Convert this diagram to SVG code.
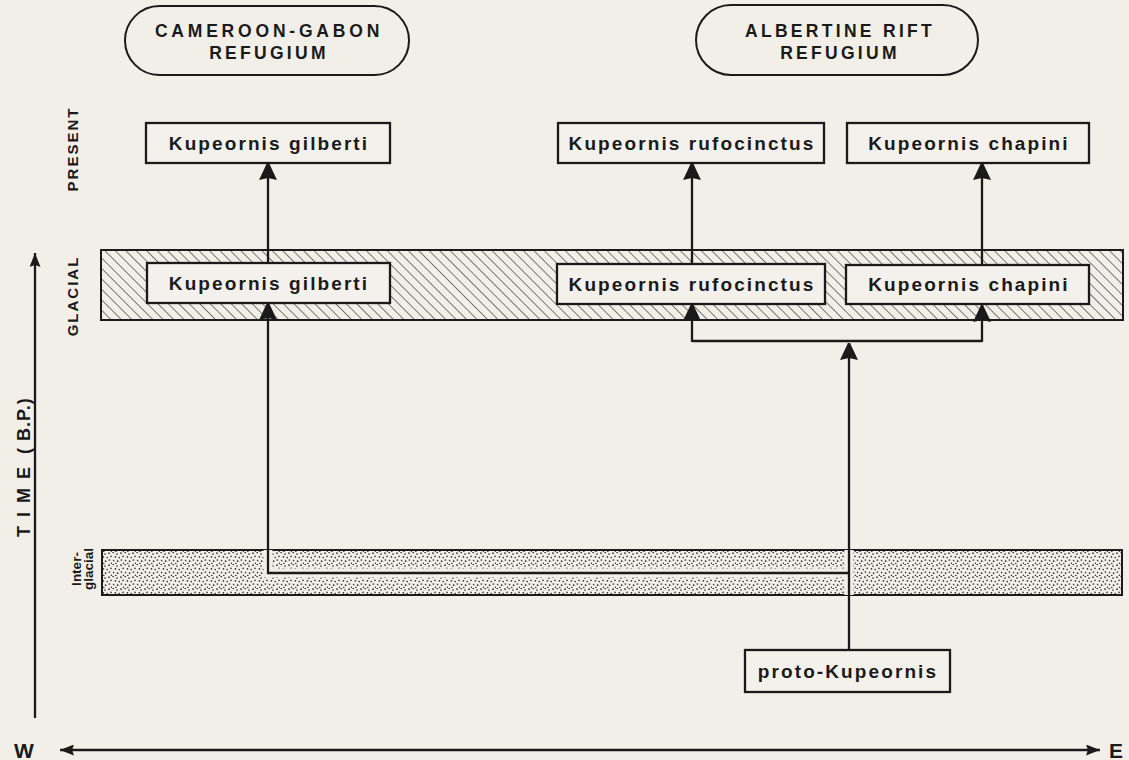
<svg xmlns="http://www.w3.org/2000/svg" width="1129" height="760" viewBox="0 0 1129 760">
<style>
.bg{fill:#f2efe9}
.box{fill:#f4f1ec;stroke:#1a1a1a;stroke-width:2.3}
.pill{fill:#f2efe9;stroke:#1a1a1a;stroke-width:2}
.lbl{font-family:"Liberation Sans",Arial,sans-serif;font-weight:bold;font-size:19px;fill:#1a1a1a;text-anchor:middle;letter-spacing:2.1px}
.ref{font-family:"Liberation Sans",Arial,sans-serif;font-weight:bold;font-size:17.5px;fill:#1a1a1a;text-anchor:middle;letter-spacing:3.3px}
.ax{font-family:"Liberation Sans",Arial,sans-serif;font-weight:bold;font-size:15px;fill:#1a1a1a;text-anchor:middle;letter-spacing:2px}
.ig{font-family:"Liberation Sans",Arial,sans-serif;font-weight:bold;font-size:13.5px;fill:#1a1a1a;text-anchor:middle}
.dir{font-family:"Liberation Sans",Arial,sans-serif;font-weight:bold;font-size:21px;fill:#1a1a1a;text-anchor:middle}
.ln{fill:none;stroke:#1a1a1a;stroke-width:2.3}
.halo{fill:none;stroke:#f2efe9;stroke-width:9}
.band{stroke:#1a1a1a;stroke-width:2}
</style>
<defs>
<pattern id="hatch" patternUnits="userSpaceOnUse" width="7.4" height="7.4" patternTransform="rotate(-45)">
<rect width="7.4" height="7.4" fill="#f2efe9"/>
<line x1="0" y1="0" x2="0" y2="7.4" stroke="#2a2a2a" stroke-width="1.2"/>
</pattern>
<pattern id="stip" patternUnits="userSpaceOnUse" width="12" height="12">
<rect width="12" height="12" fill="#f2efe9"/>
<g fill="#333">
<circle cx="1" cy="1.2" r="0.85"/><circle cx="5.2" cy="0.6" r="0.8"/><circle cx="9" cy="2" r="0.85"/>
<circle cx="3" cy="4.4" r="0.8"/><circle cx="7.4" cy="4.8" r="0.85"/><circle cx="11.2" cy="5.6" r="0.8"/>
<circle cx="1.4" cy="8" r="0.85"/><circle cx="5.6" cy="8.6" r="0.8"/><circle cx="9.6" cy="9.2" r="0.85"/>
<circle cx="3.4" cy="11.2" r="0.8"/><circle cx="7.8" cy="11.6" r="0.8"/>
</g>
</pattern>
<marker id="ah" viewBox="0 0 17 18" refX="17" refY="9" markerWidth="17" markerHeight="18" markerUnits="userSpaceOnUse" orient="auto">
<path d="M0,0 L17,8 L17,10 L0,18 L2,9 Z" fill="#1a1a1a"/>
</marker>
<marker id="ax" viewBox="0 0 14 11" refX="14" refY="5.5" markerWidth="14" markerHeight="11" markerUnits="userSpaceOnUse" orient="auto-start-reverse">
<path d="M0,0 L14,5.5 L0,11 L2,5.5 Z" fill="#1a1a1a"/>
</marker>
</defs>
<rect class="bg" x="0" y="0" width="1129" height="760"/>

<g id="bands">
<rect class="band" x="101" y="250" width="1022" height="70" fill="url(#hatch)"/>
<rect class="band" x="102" y="550" width="1020" height="45" fill="url(#stip)"/>
</g>

<g id="axes">
<line class="ln" x1="35" y1="718" x2="35" y2="253" marker-end="url(#ax)"/>
<line class="ln" x1="60" y1="750" x2="1100" y2="750" marker-start="url(#ax)" marker-end="url(#ax)"/>
<text class="dir" x="24" y="758">W</text>
<text class="dir" x="1116" y="758">E</text>
<text class="ax" transform="translate(30,537) rotate(-90)" style="font-size:18px;text-anchor:start;letter-spacing:0"><tspan letter-spacing="9">TIME</tspan><tspan dx="4">(</tspan><tspan dx="7" letter-spacing="1">B.P.)</tspan></text>
<text class="ax" transform="translate(78,149) rotate(-90)">PRESENT</text>
<text class="ax" transform="translate(78,296) rotate(-90)">GLACIAL</text>
<text class="ig" transform="translate(81,569) rotate(-90)">Inter-</text>
<text class="ig" transform="translate(93,569) rotate(-90)">glacial</text>
</g>

<g id="cameroon-gabon">
<rect class="pill" x="125" y="6" width="284" height="69" rx="34.5" ry="34.5"/>
<text class="ref" x="269" y="37" style="letter-spacing:3.8px">CAMEROON-GABON</text>
<text class="ref" x="269" y="59">REFUGIUM</text>
</g>
<g id="albertine-rift">
<rect class="pill" x="696" y="5" width="282" height="70" rx="35" ry="35"/>
<text class="ref" x="840" y="37">ALBERTINE RIFT</text>
<text class="ref" x="840" y="59">REFUGIUM</text>
</g>

<g id="connectors">
<path class="halo" d="M849,550 V595 M849,573 H268 V550"/>
<line class="ln" x1="268" y1="263" x2="268" y2="163" marker-end="url(#ah)"/>
<line class="ln" x1="692" y1="264" x2="692" y2="163" marker-end="url(#ah)"/>
<line class="ln" x1="982" y1="265" x2="982" y2="163" marker-end="url(#ah)"/>
<path class="ln" d="M849,573 H268 V303" marker-end="url(#ah)"/>
<line class="ln" x1="849" y1="650" x2="849" y2="343" marker-end="url(#ah)"/>
<path class="ln" d="M692,341 H982"/>
<line class="ln" x1="692" y1="342" x2="692" y2="304" marker-end="url(#ah)"/>
<line class="ln" x1="982" y1="342" x2="982" y2="305" marker-end="url(#ah)"/>
</g>

<g id="present-gilberti">
<rect class="box" x="146" y="123" width="244" height="40"/>
<text class="lbl" x="269" y="150">Kupeornis gilberti</text>
</g>
<g id="present-rufocinctus">
<rect class="box" x="558" y="123" width="266" height="40"/>
<text class="lbl" x="692" y="150">Kupeornis rufocinctus</text>
</g>
<g id="present-chapini">
<rect class="box" x="847" y="123" width="242" height="40"/>
<text class="lbl" x="969" y="150">Kupeornis chapini</text>
</g>
<g id="glacial-gilberti">
<rect class="box" x="147" y="263" width="243" height="40"/>
<text class="lbl" x="269" y="290">Kupeornis gilberti</text>
</g>
<g id="glacial-rufocinctus">
<rect class="box" x="557" y="264" width="268" height="40"/>
<text class="lbl" x="692" y="291">Kupeornis rufocinctus</text>
</g>
<g id="glacial-chapini">
<rect class="box" x="846" y="265" width="243" height="39"/>
<text class="lbl" x="969" y="291">Kupeornis chapini</text>
</g>
<g id="proto-kupeornis">
<rect class="box" x="745" y="650" width="205" height="42"/>
<text class="lbl" x="848" y="678">proto-Kupeornis</text>
</g>
</svg>
